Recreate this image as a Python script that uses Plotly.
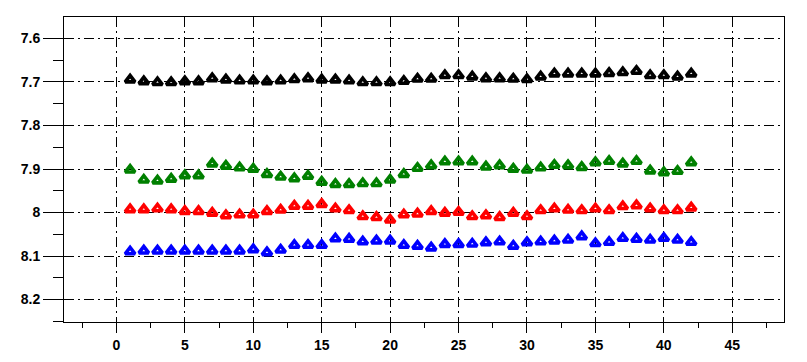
import plotly.graph_objects as go

x = list(range(1, 43))

black = [7.695, 7.699, 7.701, 7.701, 7.699, 7.699, 7.692, 7.695, 7.697, 7.697,
         7.699, 7.697, 7.694, 7.692, 7.695, 7.695, 7.697, 7.701, 7.701, 7.701,
         7.698, 7.693, 7.693, 7.685, 7.685, 7.688, 7.692, 7.692, 7.693, 7.694,
         7.688, 7.681, 7.681, 7.681, 7.681, 7.680, 7.678, 7.675, 7.685, 7.685,
         7.688, 7.681]

green = [7.902, 7.925, 7.927, 7.923, 7.915, 7.915, 7.888, 7.893, 7.897, 7.900,
         7.912, 7.918, 7.922, 7.916, 7.930, 7.935, 7.935, 7.933, 7.933, 7.925,
         7.912, 7.898, 7.892, 7.883, 7.883, 7.883, 7.895, 7.892, 7.900, 7.902,
         7.897, 7.891, 7.892, 7.896, 7.885, 7.882, 7.888, 7.882, 7.904, 7.908,
         7.905, 7.885]

red = [7.993, 7.993, 7.991, 7.993, 7.997, 7.997, 8.001, 8.007, 8.005, 8.005,
       7.997, 7.994, 7.985, 7.985, 7.981, 7.991, 7.995, 8.009, 8.011, 8.017,
       8.005, 8.003, 7.997, 8.001, 7.999, 8.009, 8.007, 8.011, 8.001, 8.009,
       7.995, 7.991, 7.994, 7.995, 7.991, 7.995, 7.986, 7.984, 7.991, 7.995,
       7.995, 7.989]

blue = [8.090, 8.088, 8.088, 8.088, 8.088, 8.088, 8.088, 8.088, 8.088, 8.085,
        8.092, 8.086, 8.075, 8.075, 8.075, 8.060, 8.061, 8.067, 8.065, 8.065,
        8.075, 8.077, 8.081, 8.073, 8.073, 8.072, 8.069, 8.067, 8.077, 8.069,
        8.067, 8.065, 8.063, 8.055, 8.071, 8.068, 8.059, 8.061, 8.063, 8.059,
        8.063, 8.068]

series = [("black", black, "#000000"), ("green", green, "#008000"),
          ("red", red, "#ff0000"), ("blue", blue, "#0000ff")]

x_ticks = [0, 5, 10, 15, 20, 25, 30, 35, 40, 45]
x_tick_text = ["0", "5", "10", "15", "20", "25", "30", "35", "40", "45"]
y_ticks = [7.6, 7.7, 7.8, 7.9, 8.0, 8.1, 8.2]
y_tick_text = ["7.6", "7.7", "7.8", "7.9", "8", "8.1", "8.2"]

fig = go.Figure()
for name, vals, col in series:
    fig.add_trace(go.Scatter(
        x=x, y=vals, mode="markers", name=name,
        marker=dict(symbol="triangle-up-open", size=8.5, color=col,
                    line=dict(width=3.6, color=col)),
        showlegend=False))

tickfont = dict(family="Liberation Sans, Arial, sans-serif", size=14,
                color="black", weight="bold")
grid = dict(showgrid=True, gridcolor="black", gridwidth=1,
            griddash="10px,4px,2px,4px")

fig.update_xaxes(range=[-3.83, 48.78], tickmode="array", tickvals=x_ticks,
                 ticktext=x_tick_text, ticks="outside",
                 ticklen=10, tickwidth=1, tickcolor="black", automargin=False,
                 showline=True, linecolor="black", linewidth=1, mirror=True,
                 zeroline=False, tickfont=tickfont,
                 minor=dict(dtick=2.5, tick0=0, ticks="outside", ticklen=5,
                            tickcolor="black", showgrid=False),
                 **grid)
fig.update_yaxes(range=[8.2516, 7.5507], tickmode="array", tickvals=y_ticks,
                 ticktext=y_tick_text,
                 ticks="outside", ticklen=20, tickwidth=1, tickcolor="black",
                 automargin=False,
                 showline=True, linecolor="black", linewidth=1, mirror=True,
                 zeroline=False, tickfont=tickfont,
                 minor=dict(dtick=0.05, tick0=7.55, ticks="outside", ticklen=10,
                            tickcolor="black", showgrid=False),
                 **grid)

fig.update_layout(width=807, height=362,
                  margin=dict(l=64, r=23, t=17, b=40, autoexpand=False),
                  plot_bgcolor="white", paper_bgcolor="white")

# remove the default 8px body margin so the figure sits at the page origin
fig.write_html("out.html",
               post_script="document.body.style.margin='0';"
                           "document.body.style.overflow='hidden';",
               config={"displayModeBar": False})
